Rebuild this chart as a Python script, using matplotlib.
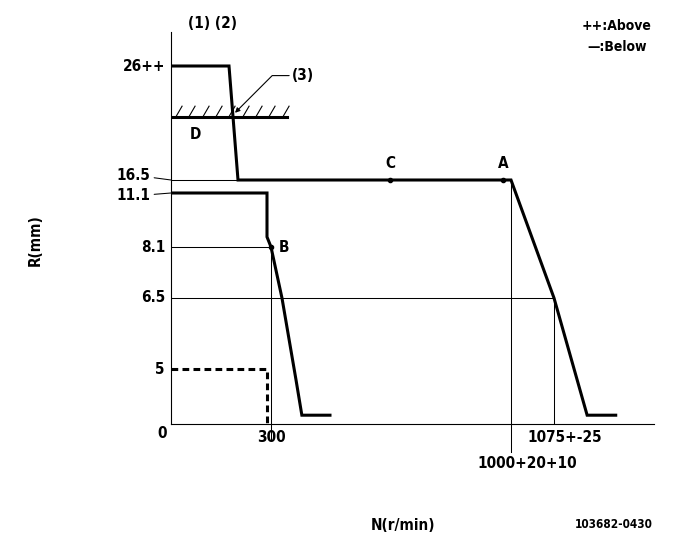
import numpy as np
import matplotlib.pyplot as plt
from matplotlib.path import Path

plt.rcParams['font.family'] = ['DejaVu Sans']
plt.rcParams['font.stretch'] = 'condensed'
plt.rcParams['font.weight'] = 'bold'

# schematic (non linear) axes: value -> place on the sheet
n_marks = [0, 300, 1000, 1075, 1250]
n_place = [0, 100, 340, 383, 483]
r_marks = [0, 5, 6.5, 8.1, 11.1, 16.5, 26, 29.5]
r_place = [0, 55, 126, 177, 231, 244, 358, 392]

# governor curves, N (r/min) vs R (mm)
full_n = [0, 174, 201, 1000, 1075, 1133, 1183]
full_r = [26, 26, 16.5, 16.5, 6.5, 0.8, 0.8]
idle_n = [0, 288, 288, 300, 332, 373, 390, 472]
idle_r = [11.1, 11.1, 8.66, 8.1, 6.5, 4.0, 0.8, 0.8]
start_n = [0, 288, 288]
start_r = [5, 5, 0]
stop_n = [0, 348]
stop_r = 21.75
hatch_n = [12, 51, 93, 132, 171, 213, 252, 291, 332]

point_names = ['A', 'B', 'C']
point_n = [977, 300, 647]
point_r = [16.5, 8.1, 16.5]

r_labels = ['0', '5', '6.5', '8.1', '11.1', '16.5', '26++']
r_values = [0, 5, 6.5, 8.1, 11.1, 16.5, 26]


def fx(v):
    return np.interp(v, n_marks, n_place)


def ix(v):
    return np.interp(v, n_place, n_marks)


def fy(v):
    return np.interp(v, r_marks, r_place)


def iy(v):
    return np.interp(v, r_place, r_marks)


W, H = 681, 549
fig = plt.figure(figsize=(W / 100, H / 100), dpi=100)
ax = fig.add_axes([171 / W, (H - 424) / H, 483 / W, 392 / H])
ax.set_xscale('function', functions=(fx, ix))
ax.set_yscale('function', functions=(fy, iy))
ax.set_xlim(0, 1250)
ax.set_ylim(0, 29.5)
ax.spines[['top', 'right']].set_visible(False)
for s in ['left', 'bottom']:
    ax.spines[s].set_linewidth(0.8)
ax.set_xticks([])
ax.set_yticks([])
ax.minorticks_off()

thin = dict(color='black', lw=0.75)
thick = dict(color='black', lw=2.2, solid_joinstyle='miter')

# reference lines
ax.plot([0, full_n[2]], [16.5, 16.5], **thin)
ax.plot([0, 300], [8.1, 8.1], **thin)
ax.plot([0, 1075], [6.5, 6.5], **thin)
ax.plot([300, 300], [8.1, 0], **thin)
ax.plot([1000, 1000], [16.5, 0], **thin)
ax.plot([1075, 1075], [6.5, 0], **thin)
ax.axvline(300, ymin=-16 / 392, ymax=0, clip_on=False, **thin)
ax.axvline(1000, ymin=-28 / 392, ymax=0, clip_on=False, **thin)

# curves
ax.plot(full_n, full_r, **thick)
ax.plot(idle_n, idle_r, **thick)
ax.plot(start_n, start_r, color='black', lw=2.2, ls=(0, (2.2, 1.4)))

# stop line with hatching
ax.plot(stop_n, [stop_r, stop_r], **thick)
stroke = Path([(0, 0), (0.58, 1)], [Path.MOVETO, Path.LINETO])
ax.plot(hatch_n, [stop_r] * len(hatch_n), ls='none', marker=stroke,
        markersize=17, mec='black', mfc='none', mew=0.8)
ax.text(74, 20.3, 'D', ha='center', va='center', fontsize=11)

ax.annotate('(3)', xy=(192, 22.1), xytext=(361, 25.2), ha='left', va='center',
            fontsize=11,
            arrowprops=dict(arrowstyle='-|>', color='black', lw=0.8,
                            mutation_scale=7, shrinkA=0, shrinkB=0,
                            connectionstyle='angle,angleA=0,angleB=45,rad=0'))

# marked points
ax.plot(point_n, point_r, 'o', color='black', ms=3)
ax.annotate('A', xy=(977, 16.5), xytext=(0, 16), textcoords='offset pixels',
            ha='center', va='center', fontsize=11)
ax.annotate('C', xy=(647, 16.5), xytext=(0, 16), textcoords='offset pixels',
            ha='center', va='center', fontsize=11)
ax.annotate('B', xy=(300, 8.1), xytext=(13, 0), textcoords='offset pixels',
            ha='center', va='center', fontsize=11)

# R labels
yt = ax.get_yaxis_transform()
for lab, v in zip(r_labels, r_values):
    if lab == '16.5':
        ax.annotate(lab, xy=(0, v), xycoords=yt, xytext=(-21, 5),
                    textcoords='offset pixels', ha='right', va='center', fontsize=11,
                    arrowprops=dict(arrowstyle='-', lw=0.75, shrinkA=1, shrinkB=0))
    elif lab == '11.1':
        ax.annotate(lab, xy=(0, v), xycoords=yt, xytext=(-21, -3),
                    textcoords='offset pixels', ha='right', va='center', fontsize=11,
                    arrowprops=dict(arrowstyle='-', lw=0.75, shrinkA=1, shrinkB=0))
    elif lab == '0':
        ax.annotate(lab, xy=(0, v), xycoords=yt, xytext=(-9, -9),
                    textcoords='offset pixels', ha='center', va='center', fontsize=11)
    else:
        ax.annotate(lab, xy=(0, v), xycoords=yt, xytext=(-6, 0),
                    textcoords='offset pixels', ha='right', va='center', fontsize=11)

# N labels
xt = ax.get_xaxis_transform()
ax.annotate('300', xy=(300, 0), xycoords=xt, xytext=(0, -13),
            textcoords='offset pixels', ha='center', va='center', fontsize=11)
ax.annotate('1075+-25', xy=(1075, 0), xycoords=xt, xytext=(11, -13),
            textcoords='offset pixels', ha='center', va='center', fontsize=11)
ax.annotate('1000+20+10', xy=(1000, 0), xycoords=xt, xytext=(16, -40),
            textcoords='offset pixels', ha='center', va='center', fontsize=11)


def ft(x, y, s, **kw):
    fig.text(x / W, 1 - y / H, s, ha='center', va='center', **kw)


ft(213, 24, '(1) (2)', fontsize=11)
ft(617, 26, '++:Above', fontsize=10)
ft(617, 47, '\u2014:Below', fontsize=10)
ft(35, 240, 'R(mm)', fontsize=11, rotation=90)
ft(403, 525, 'N(r/min)', fontsize=11)
ft(614, 525, '103682-0430', fontsize=8.5)

fig.savefig('out.png', dpi=100)
